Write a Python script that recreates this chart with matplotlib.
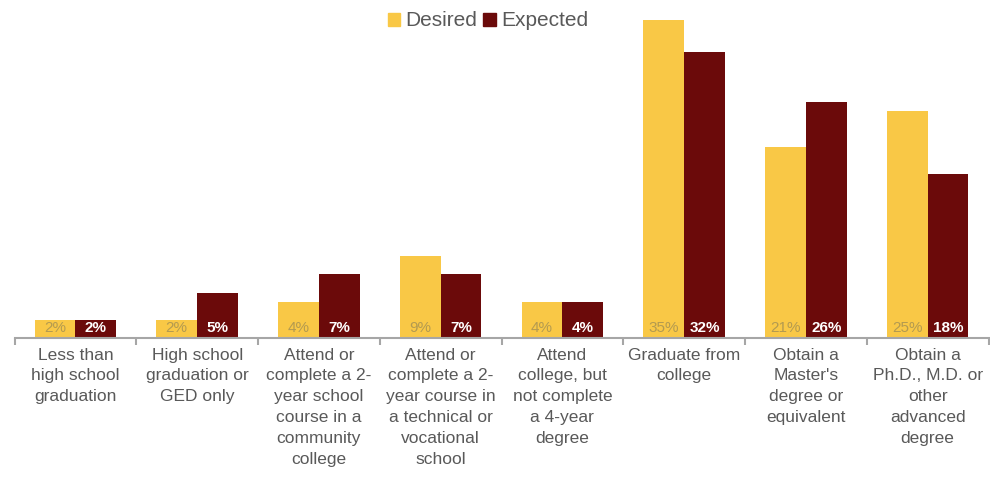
import numpy as np
import matplotlib.pyplot as plt
from matplotlib.patches import Patch

# --- Data ---
categories = [
    "Less than\nhigh school\ngraduation",
    "High school\ngraduation or\nGED only",
    "Attend or\ncomplete a 2-\nyear school\ncourse in a\ncommunity\ncollege",
    "Attend or\ncomplete a 2-\nyear course in\na technical or\nvocational\nschool",
    "Attend\ncollege, but\nnot complete\na 4-year\ndegree",
    "Graduate from\ncollege",
    "Obtain a\nMaster's\ndegree or\nequivalent",
    "Obtain a\nPh.D., M.D. or\nother\nadvanced\ndegree",
]
desired = [2, 2, 4, 9, 4, 35, 21, 25]
expected = [2, 5, 7, 7, 4, 31.5, 26, 18]
desired_labels = ["2%", "2%", "4%", "9%", "4%", "35%", "21%", "25%"]
expected_labels = ["2%", "5%", "7%", "7%", "4%", "32%", "26%", "18%"]

yellow = "#F9C846"
maroon = "#6B0A0A"
gray = "#595959"

plt.rcParams['font.family'] = ['Liberation Sans', 'DejaVu Sans']

fig = plt.figure(figsize=(9.9, 4.79), dpi=100)
ax = fig.add_axes([14.5 / 990, 1 - 338 / 479, 974 / 990, (338 - 10.8) / 479])

x = np.arange(len(categories))
w = 0.335
b1 = ax.bar(x - w / 2, desired, w, color=yellow)
b2 = ax.bar(x + w / 2, expected, w, color=maroon)

for rect, lab in zip(b1, desired_labels):
    ax.text(rect.get_x() + rect.get_width() / 2, 0.3, lab, ha="center", va="bottom",
            fontsize=11, color="#B39A50")
for rect, lab in zip(b2, expected_labels):
    ax.text(rect.get_x() + rect.get_width() / 2, 0.3, lab, ha="center", va="bottom",
            fontsize=11, color="white", fontweight="bold")

ax.set_xlim(-0.5, len(categories) - 0.5)
ax.set_ylim(0, 36)
ax.set_yticks([])
for s in ["top", "right", "left"]:
    ax.spines[s].set_visible(False)
ax.spines["bottom"].set_color("#A6A6A6")
ax.spines["bottom"].set_linewidth(1.5)

# category labels and boundary ticks
ax.set_xticks(x)
ax.set_xticklabels(categories, fontsize=12.5, color=gray, linespacing=1.48, va="top")
ax.tick_params(axis="x", length=0, pad=7)
ax.set_xticks(np.arange(len(categories) + 1) - 0.5, minor=True)
ax.tick_params(axis="x", which="minor", length=5, color="#A6A6A6", width=1.5)

handles = [Patch(color=yellow, label="Desired"), Patch(color=maroon, label="Expected")]
fig.legend(handles=handles, loc="center", bbox_to_anchor=(488 / 990, 1 - 21 / 479), ncol=2,
           frameon=False, fontsize=15, labelcolor=gray, handlelength=0.6, handleheight=0.6,
           handletextpad=0.25, columnspacing=0.3)

fig.savefig("out.png", dpi=100)
